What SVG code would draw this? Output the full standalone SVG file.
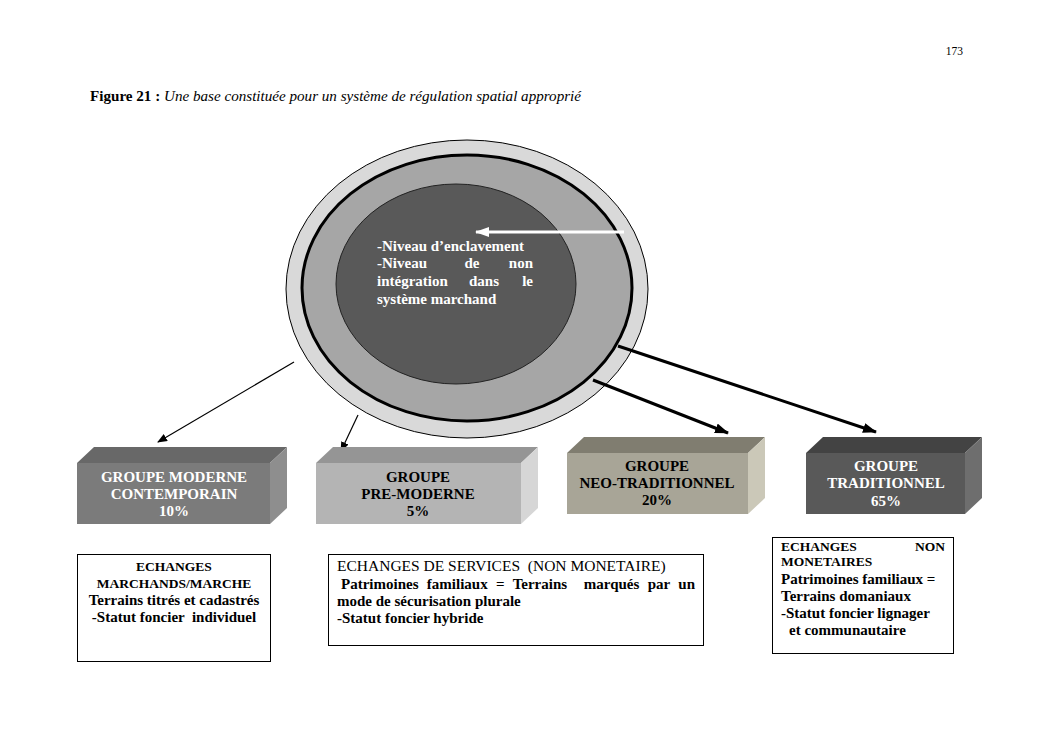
<svg xmlns="http://www.w3.org/2000/svg" width="1053" height="744" viewBox="0 0 1053 744" font-family="'Liberation Serif', 'Times New Roman', 'DejaVu Serif', serif">
<defs>
<style>
text{font-family:'Liberation Serif','Times New Roman','DejaVu Serif',serif;}
.b{font-weight:bold;font-size:15px;}
.s{font-size:13.5px;}
.w{fill:#ffffff;}
.k{fill:#000000;}
.c{text-anchor:middle;}
.e{text-anchor:end;}
.box{fill:#ffffff;stroke:#000;stroke-width:1;}
.conn{stroke:#000;fill:none;}
</style>
<marker id="ah" markerWidth="10" markerHeight="8" refX="9" refY="4" orient="auto" markerUnits="userSpaceOnUse">
<path d="M0,0 L10,4 L0,8 z" fill="#000"/>
</marker>
<marker id="ah2" markerWidth="14" markerHeight="10" refX="13" refY="5" orient="auto" markerUnits="userSpaceOnUse">
<path d="M0,0 L14,5 L0,10 z" fill="#000"/>
</marker>
<marker id="ahw" markerWidth="14" markerHeight="10" refX="13" refY="5" orient="auto" markerUnits="userSpaceOnUse">
<path d="M0,0 L14,5 L0,10 z" fill="#fff"/>
</marker>
</defs>
<rect width="1053" height="744" fill="#ffffff"/>

<g id="header">
<text x="963" y="55" font-size="11.5" text-anchor="end">173</text>
<text x="90" y="101" font-size="14" textLength="491" lengthAdjust="spacingAndGlyphs"><tspan font-weight="bold">Figure 21 :</tspan><tspan font-style="italic"> Une base constituée pour un système de régulation spatial  approprié</tspan></text>
</g>

<g id="circle">
<ellipse cx="467" cy="289" rx="181" ry="149" fill="#d9d9d9" stroke="#000" stroke-width="1"/>
<ellipse cx="467" cy="288" rx="165" ry="133" fill="#a6a6a6" stroke="#000" stroke-width="3"/>
<ellipse cx="456" cy="284" rx="120" ry="100" fill="#595959" stroke="#222" stroke-width="1"/>
<g class="b w">
<text x="377" y="251">-Niveau d’enclavement</text>
<text x="377" y="268">-Niveau</text>
<text x="472" y="268" class="c">de</text>
<text x="533" y="268" class="e">non</text>
<text x="377" y="286">intégration</text>
<text x="484" y="286" class="c">dans</text>
<text x="533" y="286" class="e">le</text>
<text x="377" y="304">système marchand</text>
</g>
</g>

<g id="connectors">
<line x1="624" y1="232" x2="476" y2="232" stroke="#fff" stroke-width="3" marker-end="url(#ahw)"/>
<line class="conn" x1="294" y1="362" x2="158" y2="442" stroke-width="1.2" marker-end="url(#ah)"/>
<line class="conn" x1="358" y1="415" x2="341" y2="451" stroke-width="1.2" marker-end="url(#ah)"/>
<line class="conn" x1="593" y1="380" x2="728" y2="433" stroke-width="3" marker-end="url(#ah2)"/>
<line class="conn" x1="618" y1="346" x2="876" y2="432" stroke-width="3" marker-end="url(#ah2)"/>
</g>

<g id="groupe-moderne">
<polygon points="77,463 270,463 287,447 94,447" fill="#686868"/>
<polygon points="270,463 287,447 287,508 270,524" fill="#8e8e8e"/>
<rect x="77" y="463" width="193" height="61" fill="#7b7b7b"/>
<g class="b w c">
<text x="174" y="482">GROUPE MODERNE</text>
<text x="174" y="499">CONTEMPORAIN</text>
<text x="174" y="516">10%</text>
</g>
</g>

<g id="groupe-premoderne">
<polygon points="316,463 521,463 538,447 333,447" fill="#959595"/>
<polygon points="521,463 538,447 538,508 521,524" fill="#d6d6d6"/>
<rect x="316" y="463" width="205" height="61" fill="#b4b4b4"/>
<g class="b k c">
<text x="418" y="482">GROUPE</text>
<text x="418" y="499">PRE-MODERNE</text>
<text x="418" y="516">5%</text>
</g>
</g>

<g id="groupe-neotraditionnel">
<polygon points="567,453 748,453 765,437 584,437" fill="#807d70"/>
<polygon points="748,453 765,437 765,498 748,514" fill="#cbc8b8"/>
<rect x="567" y="453" width="181" height="61" fill="#a8a597"/>
<g class="b k c">
<text x="657" y="471">GROUPE</text>
<text x="657" y="488">NEO-TRADITIONNEL</text>
<text x="657" y="505">20%</text>
</g>
</g>

<g id="groupe-traditionnel">
<polygon points="806,453 965,453 982,437 823,437" fill="#434343"/>
<polygon points="965,453 982,437 982,498 965,514" fill="#6e6e6e"/>
<rect x="806" y="453" width="159" height="61" fill="#595959"/>
<g class="b w c">
<text x="886" y="471">GROUPE</text>
<text x="886" y="488">TRADITIONNEL</text>
<text x="886" y="506">65%</text>
</g>
</g>

<g id="echanges-marchands">
<rect class="box" x="77.5" y="554.5" width="193" height="107"/>
<g class="b k c">
<text x="174" y="571" class="s">ECHANGES</text>
<text x="174" y="588" class="s">MARCHANDS/MARCHE</text>
<text x="174" y="605">Terrains titrés et cadastrés</text>
<text x="174" y="622" xml:space="preserve">-Statut foncier  individuel</text>
</g>
</g>

<g id="echanges-services">
<rect class="box" x="328.5" y="554.5" width="375" height="91"/>
<g class="b k">
<text x="337" y="571" font-size="15.5" font-weight="normal" xml:space="preserve">ECHANGES DE SERVICES  (NON MONETAIRE)</text>
<text x="341" y="589" word-spacing="4.6" xml:space="preserve">Patrimoines familiaux = Terrains  marqués par un</text>
<text x="337" y="606">mode de sécurisation plurale</text>
<text x="337" y="623">-Statut foncier hybride</text>
</g>
</g>

<g id="echanges-non-monetaires">
<rect class="box" x="772.5" y="537.5" width="181" height="116"/>
<g class="b k">
<text x="781" y="551" class="s">ECHANGES</text>
<text x="945" y="551" class="s e">NON</text>
<text x="781" y="566" class="s">MONETAIRES</text>
<text x="781" y="584">Patrimoines familiaux =</text>
<text x="781" y="601">Terrains domaniaux</text>
<text x="781" y="618">-Statut foncier lignager</text>
<text x="789" y="635">et communautaire</text>
</g>
</g>
</svg>
